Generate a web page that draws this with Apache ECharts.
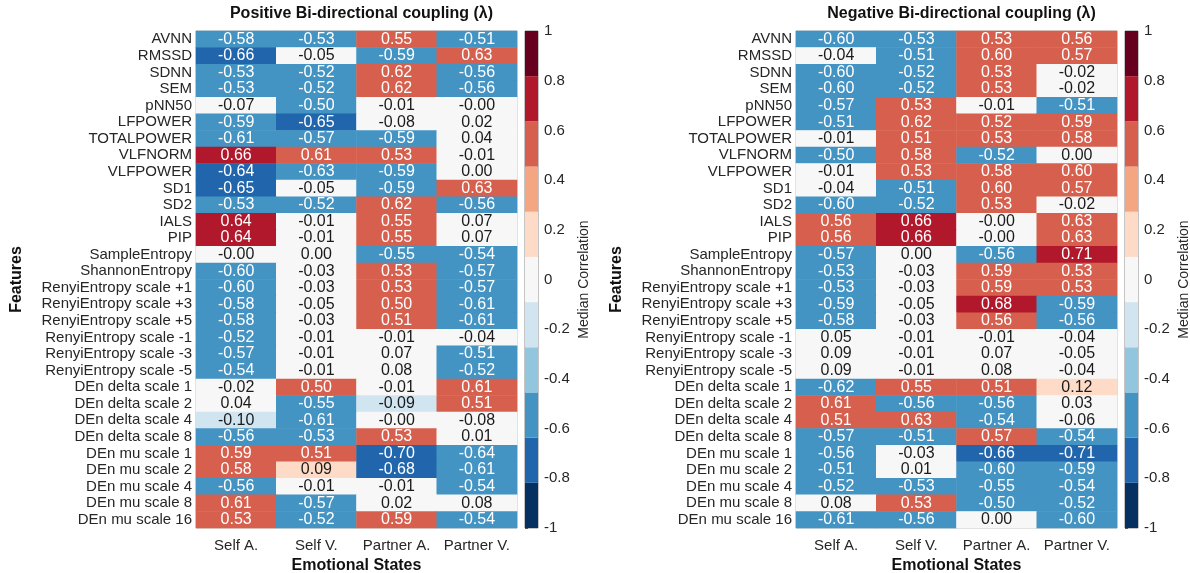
<!DOCTYPE html>
<html>
<head>
<meta charset="utf-8">
<script src="https://cdn.jsdelivr.net/npm/echarts@6/dist/echarts.min.js"></script>
<style>
  html, body { margin: 0; padding: 0; background: #ffffff; }
  #chart { width: 1190px; height: 573px; }
</style>
</head>
<body>
<div id="chart"></div>
<script>
// Row labels (top to bottom)
const features = [
  'AVNN', 'RMSSD', 'SDNN', 'SEM', 'pNN50', 'LFPOWER', 'TOTALPOWER', 'VLFNORM',
  'VLFPOWER', 'SD1', 'SD2', 'IALS', 'PIP', 'SampleEntropy', 'ShannonEntropy',
  'RenyiEntropy scale +1', 'RenyiEntropy scale +3', 'RenyiEntropy scale +5',
  'RenyiEntropy scale -1', 'RenyiEntropy scale -3', 'RenyiEntropy scale -5',
  'DEn delta scale 1', 'DEn delta scale 2', 'DEn delta scale 4', 'DEn delta scale 8',
  'DEn mu scale 1', 'DEn mu scale 2', 'DEn mu scale 4', 'DEn mu scale 8', 'DEn mu scale 16'
];

// Column labels
const states = ['Self A.', 'Self V.', 'Partner A.', 'Partner V.'];

// Median correlation per feature (rows) and emotional state (columns), positive coupling
const positiveValues = [
  [-0.58, -0.53,  0.55, -0.51],
  [-0.66, -0.05, -0.59,  0.63],
  [-0.53, -0.52,  0.62, -0.56],
  [-0.53, -0.52,  0.62, -0.56],
  [-0.07, -0.50, -0.01, -0.001],
  [-0.59, -0.65, -0.08,  0.02],
  [-0.61, -0.57, -0.59,  0.04],
  [ 0.66,  0.61,  0.53, -0.01],
  [-0.64, -0.63, -0.59,  0.00],
  [-0.65, -0.05, -0.59,  0.63],
  [-0.53, -0.52,  0.62, -0.56],
  [ 0.64, -0.01,  0.55,  0.07],
  [ 0.64, -0.01,  0.55,  0.07],
  [-0.001, 0.00, -0.55, -0.54],
  [-0.60, -0.03,  0.53, -0.57],
  [-0.60, -0.03,  0.53, -0.57],
  [-0.58, -0.05,  0.50, -0.61],
  [-0.58, -0.03,  0.51, -0.61],
  [-0.52, -0.01, -0.01, -0.04],
  [-0.57, -0.01,  0.07, -0.51],
  [-0.54, -0.01,  0.08, -0.52],
  [-0.02,  0.50, -0.01,  0.61],
  [ 0.04, -0.55, -0.092, 0.51],
  [-0.10, -0.61, -0.001, -0.08],
  [-0.56, -0.53,  0.53,  0.01],
  [ 0.59,  0.51, -0.70, -0.636],
  [ 0.58,  0.092, -0.68, -0.61],
  [-0.56, -0.01, -0.01, -0.54],
  [ 0.61, -0.57,  0.02,  0.08],
  [ 0.53, -0.52,  0.59, -0.54]
];

// Median correlation per feature (rows) and emotional state (columns), negative coupling
const negativeValues = [
  [-0.60, -0.53,  0.53,  0.56],
  [-0.04, -0.51,  0.60,  0.57],
  [-0.60, -0.52,  0.53, -0.02],
  [-0.60, -0.52,  0.53, -0.02],
  [-0.57,  0.53, -0.01, -0.51],
  [-0.51,  0.62,  0.52,  0.59],
  [-0.01,  0.51,  0.53,  0.58],
  [-0.50,  0.58, -0.52,  0.00],
  [-0.01,  0.53,  0.58,  0.60],
  [-0.04, -0.51,  0.60,  0.57],
  [-0.60, -0.52,  0.53, -0.02],
  [ 0.56,  0.66, -0.001, 0.63],
  [ 0.56,  0.66, -0.001, 0.63],
  [-0.57,  0.00, -0.56,  0.71],
  [-0.53, -0.03,  0.59,  0.53],
  [-0.53, -0.03,  0.59,  0.53],
  [-0.59, -0.05,  0.68, -0.59],
  [-0.58, -0.03,  0.56, -0.56],
  [ 0.05, -0.01, -0.01, -0.04],
  [ 0.09, -0.01,  0.07, -0.05],
  [ 0.09, -0.01,  0.08, -0.04],
  [-0.62,  0.55,  0.51,  0.12],
  [ 0.61, -0.56, -0.56,  0.03],
  [ 0.51,  0.63, -0.54, -0.06],
  [-0.57, -0.51,  0.57, -0.54],
  [-0.56, -0.03, -0.66, -0.71],
  [-0.51,  0.01, -0.60, -0.59],
  [-0.52, -0.53, -0.55, -0.54],
  [ 0.08,  0.53, -0.50, -0.52],
  [-0.61, -0.56,  0.00, -0.60]
];

// 11-step diverging colormap over [-1, 1]
const mapColors = [
  '#053061', '#2166ac', '#4393c3', '#92c5de', '#d1e5f0', '#f7f7f7',
  '#fddbc7', '#f4a582', '#d6604d', '#b2182b', '#67001f'
];
const mapMin = -1;
const mapMax = 1;

const FONT = '"Liberation Sans", Arial, Helvetica, sans-serif';
const TEXT = '#262626';

const step = (mapMax - mapMin) / mapColors.length;
const pieces = mapColors.map((c, i) => {
  const lo = mapMin + i * step;
  const hi = mapMin + (i + 1) * step;
  const p = { gte: lo, color: c };
  if (i === mapColors.length - 1) p.lte = hi; else p.lt = hi;
  return p;
});

// Colorbar blocks: [from, to, colour index]
const barBlocks = mapColors.map((c, i) => [mapMin + i * step, mapMin + (i + 1) * step, i]);

function cells(matrix) {
  const out = [];
  matrix.forEach((row, r) => {
    row.forEach((v, c) => {
      out.push({
        value: [c, r, v],
        label: { color: Math.abs(v) >= 0.4545 ? '#ffffff' : '#1a1a1a' }
      });
    });
  });
  return out;
}

const panels = [
  { title: 'Positive Bi-directional coupling (\u03bb)', left: 196, bar: 525, data: positiveValues },
  { title: 'Negative Bi-directional coupling (\u03bb)', left: 796, bar: 1125, data: negativeValues }
];
const TOP = 31, H = 497, W = 321, BW = 13;

const gridBase = { show: true, borderWidth: 1, backgroundColor: 'transparent', outerBoundsMode: 'none', containLabel: false };

const option = {
  backgroundColor: '#ffffff',
  animation: false,
  title: panels.map(p => ({
    text: p.title,
    left: p.left + W / 2,
    top: 1,
    textAlign: 'center',
    textStyle: { fontFamily: FONT, fontSize: 16, fontWeight: 'bold', color: '#111' }
  })),
  grid: [
    ...panels.map(p => Object.assign({}, gridBase, { left: p.left, top: TOP, width: W, height: H, borderColor: '#b8b8b8' })),
    ...panels.map(p => Object.assign({}, gridBase, { left: p.bar, top: TOP, width: BW, height: H, borderColor: '#8a8a8a' }))
  ],
  xAxis: [
    ...panels.map((p, i) => ({
      type: 'category', gridIndex: i, data: states, position: 'bottom',
      axisLine: { show: false }, axisTick: { show: false }, splitLine: { show: false },
      axisLabel: { fontFamily: FONT, fontSize: 15, color: TEXT, margin: 10, interval: 0 },
      name: 'Emotional States', nameLocation: 'middle', nameGap: 29,
      nameTextStyle: { fontFamily: FONT, fontSize: 16, fontWeight: 'bold', color: '#111' }
    })),
    ...panels.map((p, i) => ({
      type: 'value', gridIndex: 2 + i, min: 0, max: 1, show: false
    }))
  ],
  yAxis: [
    ...panels.map((p, i) => ({
      type: 'category', gridIndex: i, data: features, inverse: true,
      axisLine: { show: false }, axisTick: { show: false }, splitLine: { show: false },
      axisLabel: { fontFamily: FONT, fontSize: 15, color: TEXT, margin: 4, interval: 0 },
      name: 'Features', nameLocation: 'middle', nameGap: 171, nameRotate: 90,
      nameTextStyle: { fontFamily: FONT, fontSize: 16, fontWeight: 'bold', color: '#111' }
    })),
    ...panels.map((p, i) => ({
      type: 'value', gridIndex: 2 + i, min: -1, max: 1, interval: 0.2, position: 'right',
      axisLine: { show: false }, splitLine: { show: false },
      axisTick: { show: true, length: 3, inside: false, lineStyle: { color: '#555' } },
      axisLabel: { fontFamily: FONT, fontSize: 15, color: TEXT, margin: 6,
        formatter: v => String(Math.round(v * 10) / 10) },
      name: 'Median Correlation', nameLocation: 'middle', nameGap: 39, nameRotate: 90,
      nameTextStyle: { fontFamily: FONT, fontSize: 14, color: TEXT }
    }))
  ],
  visualMap: {
    type: 'piecewise', show: false, dimension: 2, seriesIndex: [0, 1], pieces: pieces
  },
  series: [
    ...panels.map((p, i) => ({
      type: 'heatmap', xAxisIndex: i, yAxisIndex: i,
      data: cells(p.data),
      label: {
        show: true, fontFamily: FONT, fontSize: 16,
        formatter: d => d.value[2].toFixed(2)
      },
      itemStyle: { borderWidth: 0 },
      emphasis: { disabled: true }
    })),
    ...panels.map((p, i) => ({
      type: 'custom', xAxisIndex: 2 + i, yAxisIndex: 2 + i, silent: true,
      data: barBlocks,
      renderItem: (params, api) => {
        const a = api.coord([0, api.value(0)]);
        const b = api.coord([1, api.value(1)]);
        return {
          type: 'rect',
          shape: { x: a[0], y: b[1], width: b[0] - a[0], height: a[1] - b[1] },
          style: { fill: mapColors[api.value(2)] }
        };
      }
    }))
  ]
};

const chart = echarts.init(document.getElementById('chart'), null, { renderer: 'canvas' });
chart.setOption(option);
</script>
</body>
</html>
